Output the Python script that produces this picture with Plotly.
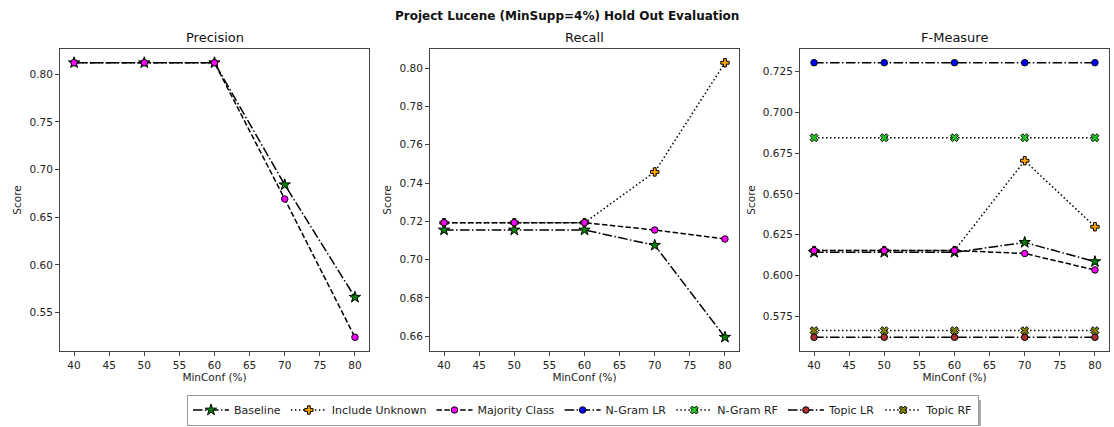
import plotly.graph_objects as go

minconf = [40, 50, 60, 70, 80]
xticks = [40, 45, 50, 55, 60, 65, 70, 75, 80]

# Precision
prec_baseline = [0.812, 0.812, 0.812, 0.684, 0.566]
prec_majority = [0.812, 0.812, 0.812, 0.669, 0.524]

# Recall
rec_baseline = [0.7155, 0.7155, 0.7155, 0.7075, 0.6595]
rec_include = [0.7193, 0.7193, 0.7193, 0.7458, 0.8028]
rec_majority = [0.7193, 0.7193, 0.7193, 0.7155, 0.7108]

# F-Measure
f_baseline = [0.6142, 0.6142, 0.6142, 0.6203, 0.6085]
f_include = [0.6153, 0.6153, 0.6153, 0.6704, 0.6299]
f_majority = [0.6153, 0.6153, 0.6153, 0.6135, 0.6034]
f_ngram_lr = [0.7305, 0.7305, 0.7305, 0.7305, 0.7305]
f_ngram_rf = [0.6845, 0.6845, 0.6845, 0.6845, 0.6845]
f_topic_lr = [0.5621, 0.5621, 0.5621, 0.5621, 0.5621]
f_topic_rf = [0.5662, 0.5662, 0.5662, 0.5662, 0.5662]

DASHDOT = "9.6px,2.4px,1.5px,2.4px"
DASHED = "5.5px,2.4px"
DOTTED = "1.5px,2.5px"

styles = {
    "Baseline": dict(dash=DASHDOT, symbol="star", color="#008000", size=8.5),
    "Include Unknown": dict(dash=DOTTED, symbol="cross", color="#FFA500", size=7),
    "Majority Class": dict(dash=DASHED, symbol="circle", color="#FF00FF", size=6.5),
    "N-Gram LR": dict(dash=DASHDOT, symbol="circle", color="#0000FF", size=6.5),
    "N-Gram RF": dict(dash=DOTTED, symbol="x", color="#22CC22", size=7),
    "Topic LR": dict(dash=DASHDOT, symbol="circle", color="#B03030", size=6.5),
    "Topic RF": dict(dash=DOTTED, symbol="x", color="#808000", size=7),
}
order = list(styles.keys())

W, H = 1114, 427
FONT = "DejaVu Sans"

fig = go.Figure()

panels = [
    ("Precision", 60, 369, {"Baseline": prec_baseline, "Majority Class": prec_majority}),
    ("Recall", 430, 739, {"Baseline": rec_baseline, "Include Unknown": rec_include,
                          "Majority Class": rec_majority}),
    ("F-Measure", 800, 1109, {"Baseline": f_baseline, "Include Unknown": f_include,
                              "Majority Class": f_majority, "N-Gram LR": f_ngram_lr,
                              "N-Gram RF": f_ngram_rf, "Topic LR": f_topic_lr,
                              "Topic RF": f_topic_rf}),
]
yranges = [[0.5096, 0.8264], [0.6523, 0.8100], [0.5537, 0.7389]]
ydticks = [0.05, 0.02, 0.025]
yfmt = [".2f", ".2f", ".3f"]

top_px, bot_px = 49, 351
shown = set()
annotations = []
for i, (title, x0, x1, data) in enumerate(panels):
    idx = "" if i == 0 else str(i + 1)
    xa, ya = "x" + idx, "y" + idx
    for name in order:
        if name not in data:
            continue
        s = styles[name]
        fig.add_trace(go.Scatter(
            x=minconf, y=data[name], name=name, mode="lines+markers",
            xaxis=xa, yaxis=ya, legendgroup=name, legendrank=order.index(name) + 1,
            showlegend=name not in shown,
            line=dict(color="black", width=1.5, dash=s["dash"]),
            marker=dict(symbol=s["symbol"], color=s["color"], size=s["size"],
                        line=dict(color="black", width=1)),
        ))
        shown.add(name)
    axis_common = dict(showline=True, mirror=True, linecolor="#444", linewidth=1,
                       ticks="outside", ticklen=4, tickcolor="#444", showgrid=False,
                       zeroline=False, tickfont=dict(family=FONT, size=10.5, color="#222"))
    fig.layout["xaxis" + idx] = dict(
        domain=[x0 / W, x1 / W], anchor=ya, range=[38, 82],
        tickmode="array", tickvals=xticks,
        title=dict(text="MinConf (%)", font=dict(family=FONT, size=10.5, color="#222"), standoff=3),
        **axis_common)
    fig.layout["yaxis" + idx] = dict(
        domain=[1 - bot_px / H, 1 - top_px / H], anchor=xa, range=yranges[i],
        dtick=ydticks[i], tick0=0, tickformat=yfmt[i],
        title=dict(text="Score", font=dict(family=FONT, size=10.5, color="#222"), standoff=5),
        **axis_common)
    annotations.append(dict(
        text=title, x=(x0 + x1) / 2 / W, y=1 - 38 / H, xref="paper", yref="paper",
        xanchor="center", yanchor="middle", showarrow=False,
        font=dict(family=FONT, size=13, color="#111")))

annotations.append(dict(
    text="<b>Project Lucene (MinSupp=4%) Hold Out Evaluation</b>",
    x=567 / W, y=1 - 16 / H, xref="paper", yref="paper", xanchor="center",
    yanchor="middle", showarrow=False, font=dict(family=FONT, size=12, color="#111")))

# legend drop shadow
shapes = [dict(type="rect", xref="paper", yref="paper",
               x0=191 / W, x1=981 / W, y0=1 - 426 / H, y1=1 - 400 / H,
               fillcolor="#aaa", line=dict(width=0), layer="above")]

fig.update_layout(
    width=W, height=H, margin=dict(l=0, r=0, t=0, b=0),
    paper_bgcolor="white", plot_bgcolor="white",
    annotations=annotations, shapes=shapes,
    legend=dict(orientation="h", x=583 / W, y=1 - 410 / H, xanchor="center",
                yanchor="middle", bgcolor="white", bordercolor="#999", borderwidth=1,
                font=dict(family=FONT, size=11, color="#222"),
                itemwidth=36, tracegroupgap=0, traceorder="normal"),
    font=dict(family=FONT),
)

fig.write_html("out.html")
